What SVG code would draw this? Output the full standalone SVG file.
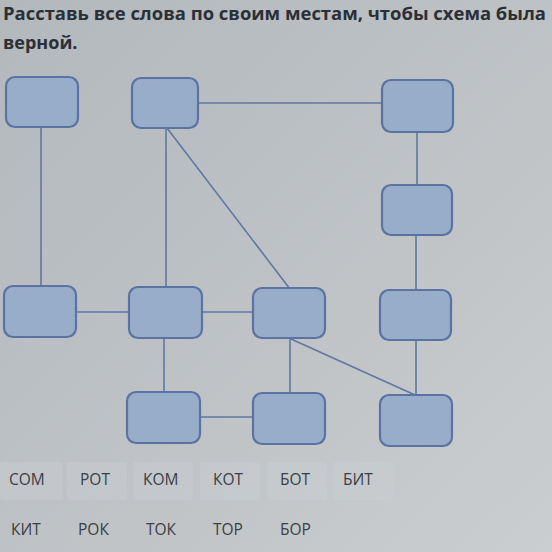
<svg xmlns="http://www.w3.org/2000/svg" width="552" height="552" viewBox="0 0 552 552">
<defs>
<linearGradient id="bg" x1="0" y1="0" x2="1" y2="1">
<stop offset="0" stop-color="#b3b8bd"/>
<stop offset="0.6" stop-color="#c0c4c7"/>
<stop offset="1" stop-color="#cbced0"/>
</linearGradient>
<style>
.node{fill:#98adc9;stroke:#5a73a3;stroke-width:2.2}
.edge{stroke:#5f77a3;stroke-width:1.6;fill:none}
.title{font-family:"Open Sans","Noto Sans",sans-serif;font-weight:700;font-size:18px;fill:#2b2f36}
.word{font-family:"Open Sans","Noto Sans",sans-serif;font-size:15.5px;fill:#3a3e46}
.chip{fill:#c9ced2;opacity:0.45}
</style>
</defs>
<rect width="552" height="552" fill="url(#bg)"/>
<text class="title" x="3" y="20" textLength="543" lengthAdjust="spacingAndGlyphs">Расставь все слова по своим местам, чтобы схема была</text>
<text class="title" x="3" y="49">верной.</text>
<g id="connectors">
<line class="edge" x1="41" y1="127" x2="41" y2="287"/>
<line class="edge" x1="166" y1="128" x2="166" y2="288"/>
<line class="edge" x1="198" y1="103" x2="382" y2="103"/>
<line class="edge" x1="167" y1="128" x2="290" y2="289"/>
<line class="edge" x1="417" y1="132" x2="417" y2="185"/>
<line class="edge" x1="416" y1="235" x2="416" y2="290"/>
<line class="edge" x1="416" y1="340" x2="416" y2="395"/>
<line class="edge" x1="76" y1="312" x2="129" y2="312"/>
<line class="edge" x1="202" y1="312" x2="253" y2="312"/>
<line class="edge" x1="164" y1="338" x2="164" y2="392"/>
<line class="edge" x1="290" y1="338" x2="290" y2="393"/>
<line class="edge" x1="291" y1="339" x2="415" y2="395"/>
<line class="edge" x1="200" y1="417" x2="253" y2="417"/>
</g>
<g id="n1"><rect class="node" x="6" y="77" width="72" height="50" rx="9"/></g>
<g id="n2"><rect class="node" x="132" y="78" width="66" height="50" rx="9"/></g>
<g id="n3"><rect class="node" x="382" y="80" width="71" height="52" rx="9"/></g>
<g id="n4"><rect class="node" x="382" y="185" width="70" height="50" rx="9"/></g>
<g id="n5"><rect class="node" x="4" y="286" width="72" height="51" rx="9"/></g>
<g id="n6"><rect class="node" x="129" y="287" width="73" height="51" rx="9"/></g>
<g id="n7"><rect class="node" x="253" y="288" width="72" height="50" rx="9"/></g>
<g id="n8"><rect class="node" x="380" y="290" width="71" height="50" rx="9"/></g>
<g id="n9"><rect class="node" x="127" y="392" width="73" height="51" rx="9"/></g>
<g id="n10"><rect class="node" x="253" y="393" width="72" height="51" rx="9"/></g>
<g id="n11"><rect class="node" x="380" y="395" width="72" height="51" rx="9"/></g>
<g id="words">
<rect class="chip" x="0" y="462" width="63" height="38" rx="3"/>
<rect class="chip" x="67" y="462" width="60" height="38" rx="3"/>
<rect class="chip" x="133" y="462" width="60" height="38" rx="3"/>
<rect class="chip" x="200" y="462" width="60" height="38" rx="3"/>
<rect class="chip" x="267" y="462" width="60" height="38" rx="3"/>
<rect class="chip" x="333" y="462" width="60" height="38" rx="3"/>
<text class="word" x="9" y="485">СОМ</text>
<text class="word" x="80" y="485">РОТ</text>
<text class="word" x="143" y="485">КОМ</text>
<text class="word" x="213" y="485">КОТ</text>
<text class="word" x="280" y="485">БОТ</text>
<text class="word" x="343" y="485">БИТ</text>
<text class="word" x="11" y="535">КИТ</text>
<text class="word" x="78" y="535">РОК</text>
<text class="word" x="146" y="535">ТОК</text>
<text class="word" x="213" y="535">ТОР</text>
<text class="word" x="280" y="535">БОР</text>
</g>
</svg>
